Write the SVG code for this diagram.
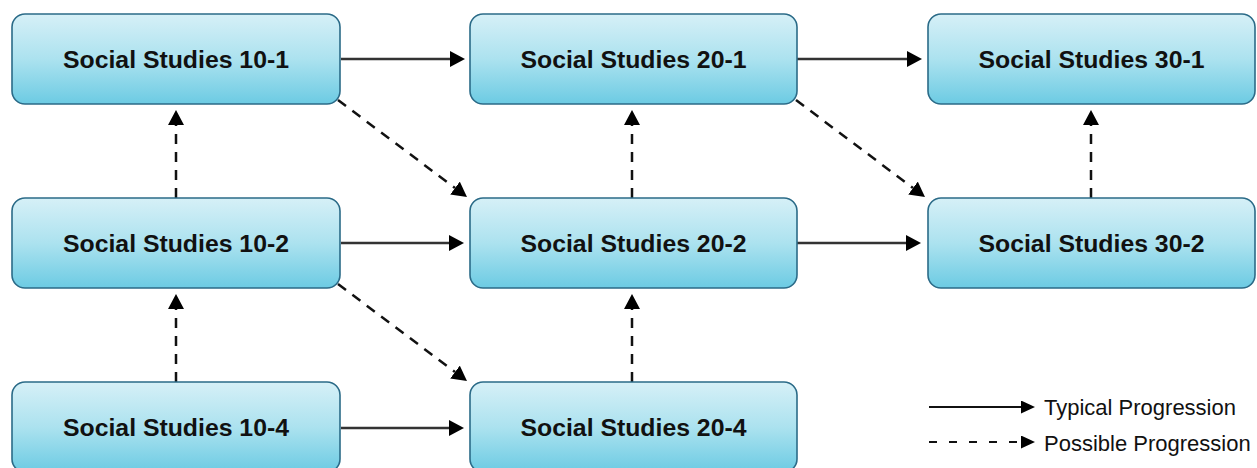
<svg xmlns="http://www.w3.org/2000/svg" width="1257" height="468" viewBox="0 0 1257 468">
<defs>
<linearGradient id="g" x1="0" y1="0" x2="0" y2="1">
<stop offset="0" stop-color="#d6f0f7"/>
<stop offset="0.5" stop-color="#ace2ef"/>
<stop offset="1" stop-color="#6ccbe3"/>
</linearGradient>
<marker id="ah" markerUnits="userSpaceOnUse" markerWidth="16" markerHeight="17" refX="0" refY="8" orient="auto" viewBox="0 0 16 17">
<path d="M0,0 L15,8 L0,16 z" fill="#000"/>
</marker>
<marker id="ahs" markerUnits="userSpaceOnUse" markerWidth="15" markerHeight="14" refX="0" refY="6.5" orient="auto" viewBox="0 0 15 14">
<path d="M0,0 L14,6.5 L0,13 z" fill="#000"/>
</marker>
</defs>
<style>
.box{fill:url(#g);stroke:#2b6b88;stroke-width:1.6}
.lbl{font-family:"Liberation Sans",Arial,sans-serif;font-weight:bold;font-size:24.8px;fill:#111;text-anchor:middle}
.solid{stroke:#333;stroke-width:2.5;fill:none;marker-end:url(#ah)}
.dash{stroke:#111;stroke-width:2.5;fill:none;stroke-dasharray:10 8;marker-end:url(#ah)}
.leg{font-family:"Liberation Sans",Arial,sans-serif;font-size:22px;fill:#111}
</style>
<rect width="1257" height="468" fill="#fff"/>
<g id="connectors">
<line class="solid" x1="341" y1="59" x2="450" y2="59"/>
<line class="solid" x1="797" y1="59" x2="907" y2="59"/>
<line class="solid" x1="341" y1="243" x2="449" y2="243"/>
<line class="solid" x1="797" y1="243" x2="906" y2="243"/>
<line class="solid" x1="341" y1="428" x2="449" y2="428"/>
<line class="dash" x1="176" y1="198" x2="176" y2="125"/>
<line class="dash" x1="176" y1="382" x2="176" y2="309"/>
<line class="dash" x1="632" y1="198" x2="632" y2="125"/>
<line class="dash" x1="632" y1="382" x2="632" y2="309"/>
<line class="dash" x1="1091" y1="198" x2="1091" y2="125"/>
<line class="dash" x1="338" y1="100" x2="455" y2="188"/>
<line class="dash" x1="338" y1="284" x2="455" y2="372"/>
<line class="dash" x1="796" y1="100" x2="913" y2="188"/>
</g>
<g id="n10-1"><rect class="box" x="12" y="14" width="328" height="90" rx="13"/><text class="lbl" x="176" y="67.5">Social Studies 10-1</text></g>
<g id="n20-1"><rect class="box" x="470" y="14" width="327" height="90" rx="13"/><text class="lbl" x="633.5" y="67.5">Social Studies 20-1</text></g>
<g id="n30-1"><rect class="box" x="928" y="14" width="327" height="90" rx="13"/><text class="lbl" x="1091.5" y="67.5">Social Studies 30-1</text></g>
<g id="n10-2"><rect class="box" x="12" y="198" width="328" height="90" rx="13"/><text class="lbl" x="176" y="251.5">Social Studies 10-2</text></g>
<g id="n20-2"><rect class="box" x="470" y="198" width="327" height="90" rx="13"/><text class="lbl" x="633.5" y="251.5">Social Studies 20-2</text></g>
<g id="n30-2"><rect class="box" x="928" y="198" width="327" height="90" rx="13"/><text class="lbl" x="1091.5" y="251.5">Social Studies 30-2</text></g>
<g id="n10-4"><rect class="box" x="12" y="382" width="328" height="90" rx="13"/><text class="lbl" x="176" y="435.5">Social Studies 10-4</text></g>
<g id="n20-4"><rect class="box" x="470" y="382" width="327" height="90" rx="13"/><text class="lbl" x="633.5" y="435.5">Social Studies 20-4</text></g>
<g id="legend">
<line x1="929" y1="407" x2="1021" y2="407" stroke="#111" stroke-width="2" marker-end="url(#ahs)"/>
<line x1="929" y1="442" x2="1021" y2="442" stroke="#111" stroke-width="2" stroke-dasharray="8 12" marker-end="url(#ahs)"/>
<text class="leg" x="1044" y="415">Typical Progression</text>
<text class="leg" x="1044" y="451">Possible Progression</text>
</g>
</svg>
